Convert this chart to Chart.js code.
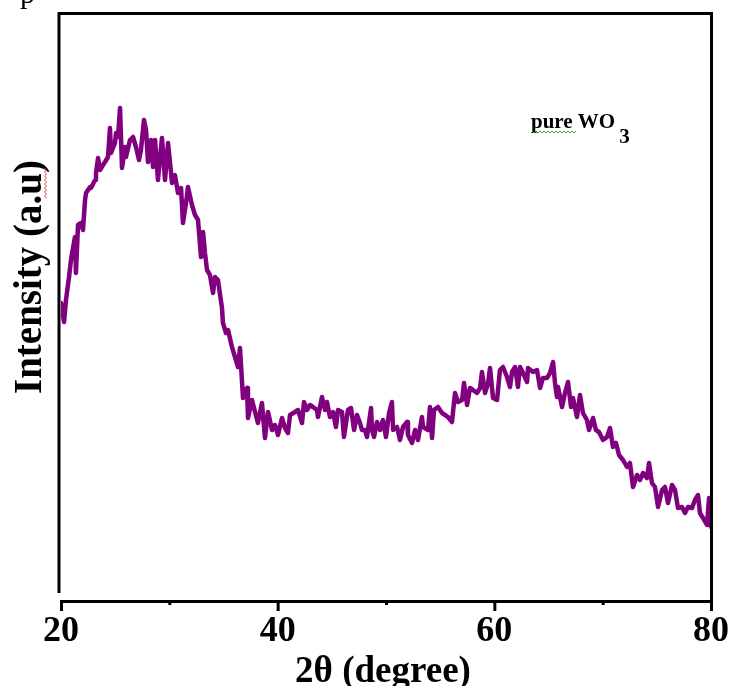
<!DOCTYPE html>
<html>
<head>
<meta charset="utf-8">
<title>XRD pattern of pure WO3</title>
<script src="https://cdn.jsdelivr.net/npm/chart.js@4.4.1/dist/chart.umd.min.js"></script>
<style>
  html, body { margin: 0; padding: 0; background: #ffffff; }
  #wrap { width: 730px; height: 686px; }
</style>
</head>
<body>
<div id="wrap"><canvas id="xrd" width="730" height="686"></canvas></div>
<script>
// Diffraction angle 2θ (degree)
const twoTheta = [
  20.00, 20.28, 20.46, 20.74, 20.92, 21.29, 21.38, 21.57, 21.85, 22.03,
  22.22, 22.31, 22.68, 22.77, 23.14, 23.23, 23.42, 23.60, 23.88, 24.06,
  24.34, 24.52, 24.62, 24.98, 25.08, 25.26, 25.45, 25.63, 25.91, 26.00,
  26.37, 26.65, 26.92, 27.20, 27.38, 27.66, 27.85, 28.03, 28.31, 28.49,
  28.68, 28.95, 29.32, 29.60, 29.88, 30.25, 30.52, 30.80, 31.08, 31.26,
  31.54, 31.72, 32.09, 32.37, 32.65, 32.92, 33.11, 33.29, 33.48, 33.75,
  34.03, 34.22, 34.49, 34.86, 34.95, 35.23, 35.42, 35.78, 36.06, 36.34,
  36.52, 36.80, 36.98, 37.17, 37.26, 37.63, 37.91, 38.18, 38.55, 38.83,
  39.11, 39.48, 39.75, 40.03, 40.40, 40.68, 40.95, 41.14, 41.60, 41.88,
  42.25, 42.43, 42.71, 42.98, 43.26, 43.63, 43.72, 44.09, 44.37, 44.55,
  44.83, 45.11, 45.38, 45.57, 45.94, 46.12, 46.49, 46.77, 47.05, 47.32,
  47.60, 47.78, 48.06, 48.25, 48.62, 48.71, 48.89, 49.17, 49.45, 49.72,
  50.00, 50.28, 50.55, 50.65, 51.02, 51.29, 51.57, 51.94, 52.03, 52.40,
  52.68, 52.95, 53.32, 53.42, 53.88, 54.06, 54.25, 54.43, 54.80, 55.17,
  55.45, 55.72, 56.09, 56.37, 56.65, 57.02, 57.20, 57.48, 57.75, 58.03,
  58.40, 58.68, 58.86, 59.14, 59.42, 59.60, 59.88, 60.25, 60.52, 60.80,
  61.17, 61.45, 61.63, 61.91, 62.18, 62.37, 62.65, 63.02, 63.11, 63.57,
  63.94, 64.22, 64.49, 64.86, 65.14, 65.42, 65.60, 65.78, 65.88, 66.25,
  66.52, 66.80, 67.08, 67.26, 67.63, 67.91, 68.18, 68.55, 68.74, 69.11,
  69.38, 69.66, 70.03, 70.40, 70.68, 70.95, 71.23, 71.51, 71.88, 72.25,
  72.52, 72.80, 73.17, 73.45, 73.72, 74.09, 74.28, 74.55, 74.83, 75.11,
  75.48, 75.75, 76.03, 76.40, 76.68, 76.95, 77.32, 77.60, 77.88, 78.25,
  78.52, 78.80, 78.98, 79.26, 79.63, 79.82, 80.00
];

// Intensity (arbitrary units)
const intensity = [
  298, 279, 301, 324, 341, 364, 328, 376, 378, 371,
  401, 408, 414, 413, 421, 428, 443, 431, 436, 439,
  444, 473, 448, 458, 468, 464, 493, 433, 454, 444,
  461, 464, 454, 441, 451, 481, 471, 439, 461, 434,
  461, 421, 463, 421, 458, 418, 426, 408, 413, 378,
  398, 414, 396, 386, 381, 344, 369, 348, 331, 326,
  308, 324, 321, 293, 278, 268, 271, 254, 244, 234,
  253, 203, 211, 213, 183, 201, 189, 178, 198, 163,
  189, 171, 176, 166, 183, 173, 168, 186, 189, 191,
  178, 199, 191, 196, 194, 191, 184, 204, 191, 199,
  184, 189, 174, 191, 189, 164, 191, 193, 171, 186,
  178, 171, 171, 164, 193, 171, 164, 179, 171, 181,
  164, 188, 199, 171, 174, 161, 174, 179, 166, 158,
  171, 161, 184, 174, 171, 194, 163, 191, 194, 188,
  186, 184, 179, 208, 199, 201, 218, 196, 213, 211,
  208, 213, 229, 208, 218, 233, 203, 201, 231, 234,
  224, 214, 229, 234, 214, 234, 228, 219, 233, 229,
  231, 213, 223, 223, 228, 239, 218, 204, 214, 194,
  208, 219, 194, 203, 184, 206, 188, 181, 171, 183,
  171, 169, 161, 164, 173, 154, 158, 146, 141, 134,
  138, 114, 126, 121, 128, 123, 138, 118, 114, 94,
  111, 114, 98, 116, 111, 93, 94, 88, 94, 93,
  101, 106, 88, 83, 76, 103, 74
];

// Axis settings
const xTicks = [20, 40, 60, 80];
const xMinorTicks = [30, 50, 70];
const xRange = [20, 80];
const yRange = [0, 587];

const xTitle = '2θ (degree)';
const yTitle = 'Intensity (a.u)';
const sampleName = 'pure WO';
const sampleSub = '3';

const serif = '"Liberation Serif", "Times New Roman", serif';
const lineColor = '#80007f';

// Frame, tick marks, axis titles and the sample label
const decorations = {
  id: 'decorations',
  afterDraw(chart) {
    const ctx = chart.ctx;
    const xs = chart.scales.x;
    const area = chart.chartArea;
    ctx.save();

    // stray glyph at the top edge of the figure
    ctx.fillStyle = '#000';
    ctx.font = '30px ' + serif;
    ctx.textAlign = 'left';
    ctx.textBaseline = 'alphabetic';
    ctx.fillText('p', 20, 3);

    // frame
    ctx.strokeStyle = '#000';
    ctx.lineWidth = 3;
    ctx.lineCap = 'butt';
    ctx.beginPath();
    ctx.moveTo(59, 593);
    ctx.lineTo(59, area.top - 0.5);
    ctx.moveTo(57.5, area.top - 0.5);
    ctx.lineTo(area.right + 2, area.top - 0.5);
    ctx.moveTo(area.right + 0.5, area.top - 2);
    ctx.lineTo(area.right + 0.5, area.bottom);
    ctx.moveTo(area.left - 1, area.bottom + 0.5);
    ctx.lineTo(area.right + 2, area.bottom + 0.5);
    ctx.stroke();

    // major and minor tick marks
    ctx.beginPath();
    xTicks.forEach(v => {
      const px = xs.getPixelForValue(v) + 0.5;
      ctx.moveTo(px, area.bottom);
      ctx.lineTo(px, area.bottom + 10);
    });
    xMinorTicks.forEach(v => {
      const px = xs.getPixelForValue(v) + 0.5;
      ctx.moveTo(px, area.bottom);
      ctx.lineTo(px, area.bottom + 4);
    });
    ctx.stroke();

    // x title
    ctx.fillStyle = '#000';
    ctx.font = 'bold 37px ' + serif;
    ctx.textAlign = 'center';
    ctx.textBaseline = 'alphabetic';
    ctx.fillText(xTitle, 383, 682);

    // y title (rotated)
    ctx.save();
    ctx.translate(41, 277);
    ctx.rotate(-Math.PI / 2);
    ctx.font = 'bold 39px ' + serif;
    ctx.textAlign = 'center';
    ctx.fillText(yTitle, 0, 0);
    ctx.restore();

    // sample label with subscript
    ctx.font = 'bold 21px ' + serif;
    ctx.textAlign = 'left';
    ctx.fillText(sampleName, 531, 128);
    const w = ctx.measureText(sampleName).width;
    ctx.fillText(sampleSub, 531 + w + 4, 143);

    // proofing squiggles under "a.u" and "pure"
    ctx.lineWidth = 1;
    ctx.strokeStyle = '#e04040';
    ctx.beginPath();
    for (let y = 168, i = 0; y <= 198; y += 2, i++) {
      const x = 45.5 + (i % 2 ? 1 : -1);
      if (i === 0) ctx.moveTo(x, y); else ctx.lineTo(x, y);
    }
    ctx.stroke();
    ctx.strokeStyle = '#3aa03a';
    ctx.beginPath();
    for (let x = 532, i = 0; x <= 576; x += 2, i++) {
      const y = 132 + (i % 2 ? 1 : -1);
      if (i === 0) ctx.moveTo(x, y); else ctx.lineTo(x, y);
    }
    ctx.stroke();

    ctx.restore();
  }
};

const points = twoTheta.map((t, i) => ({ x: t, y: intensity[i] }));

new Chart(document.getElementById('xrd'), {
  type: 'line',
  data: {
    datasets: [{
      label: 'pure WO3',
      data: points,
      borderColor: lineColor,
      borderWidth: 4.5,
      borderJoinStyle: 'round',
      borderCapStyle: 'round',
      pointRadius: 0,
      tension: 0,
      fill: false
    }]
  },
  options: {
    responsive: false,
    animation: false,
    devicePixelRatio: 1,
    layout: { padding: { left: 61, right: 19, top: 14, bottom: 0 } },
    plugins: { legend: { display: false }, tooltip: { enabled: false } },
    scales: {
      x: {
        type: 'linear',
        min: xRange[0],
        max: xRange[1],
        afterBuildTicks(scale) {
          scale.ticks = xTicks.map(v => ({ value: v }));
        },
        afterFit(scale) {
          scale.height = 85;
          scale.paddingLeft = 0;
          scale.paddingRight = 0;
        },
        ticks: {
          color: '#000',
          padding: 9,
          font: { family: serif, weight: 'bold', size: 36 }
        },
        grid: { display: false, drawTicks: false },
        border: { display: false }
      },
      y: {
        display: false,
        min: yRange[0],
        max: yRange[1]
      }
    }
  },
  plugins: [decorations]
});
</script>
</body>
</html>
